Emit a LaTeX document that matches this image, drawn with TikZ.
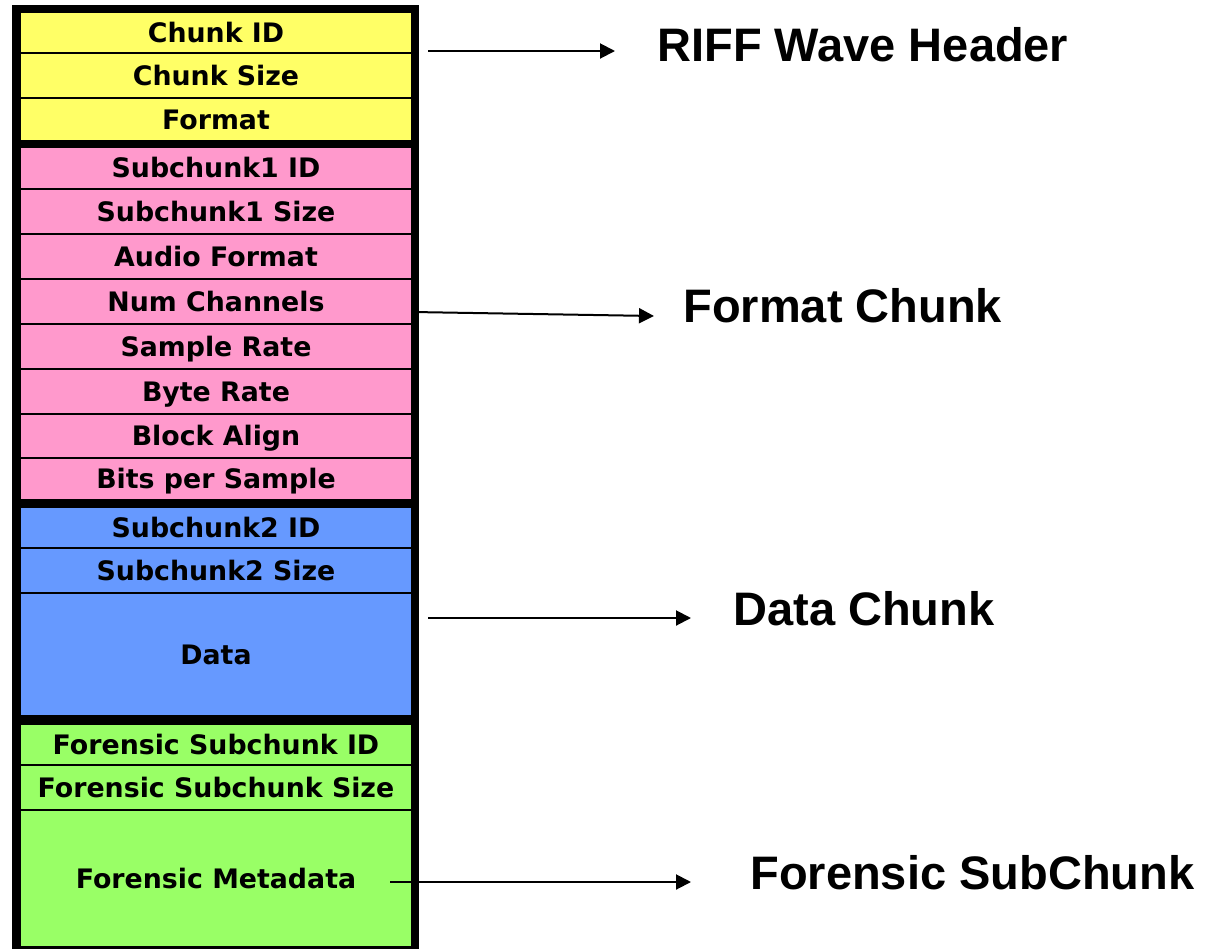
\documentclass[tikz,border=0pt]{standalone}
\usepackage{fontspec}
\setmainfont{DejaVu Sans}
\newfontfamily\labelfont{Liberation Sans}
\usetikzlibrary{arrows.meta,positioning}
\definecolor{riffyellow}{RGB}{255,255,102}
\definecolor{fmtpink}{RGB}{255,153,204}
\definecolor{datablue}{RGB}{102,153,255}
\definecolor{forgreen}{RGB}{153,255,102}
\tikzset{
  field/.style={draw=black, line width=0.75pt, inner sep=0pt, minimum width=196pt,
    text height=9.8pt, text depth=0pt, font=\fontsize{13.4}{16}\selectfont\bfseries},
  chunklabel/.style={anchor=base west, inner sep=0pt,
    font=\labelfont\fontsize{23.5}{27}\selectfont\bfseries},
  pointer/.style={line width=1pt, -{Triangle[length=7.5pt,width=7.5pt]}}
}

\begin{document}
\begin{tikzpicture}[x=0.5pt, y=-0.5pt]
\useasboundingbox (0,0) rectangle (1212,949);
% outer frame (the black bands between the chunks show through)
\fill[black] (12,5) rectangle (419,949);

% RIFF header
\node[field, fill=riffyellow, minimum height=20.5pt] (cid) at (216,32.5) {Chunk ID};
\node[field, fill=riffyellow, minimum height=22.5pt] (csize) at (216,75.5) {Chunk Size};
\node[field, fill=riffyellow, minimum height=21.5pt] (cfmt) at (216,119.5) {Format};

% format chunk
\node[field, fill=fmtpink, minimum height=21pt] (s1id) at (216,168) {Subchunk1 ID};
\node[field, fill=fmtpink, minimum height=22.5pt] (s1size) at (216,211.5) {Subchunk1 Size};
\node[field, fill=fmtpink, minimum height=22.5pt] (afmt) at (216,256.5) {Audio Format};
\node[field, fill=fmtpink, minimum height=22.5pt] (nch) at (216,301.5) {Num Channels};
\node[field, fill=fmtpink, minimum height=22.5pt] (srate) at (216,346.5) {Sample Rate};
\node[field, fill=fmtpink, minimum height=22.5pt] (brate) at (216,391.5) {Byte Rate};
\node[field, fill=fmtpink, minimum height=22pt] (balign) at (216,436) {Block Align};
\node[field, fill=fmtpink, minimum height=21pt] (bps) at (216,479) {Bits per Sample};

% data chunk
\node[field, fill=datablue, minimum height=20.5pt] (s2id) at (216,527.5) {Subchunk2 ID};
\node[field, fill=datablue, minimum height=22.5pt] (s2size) at (216,570.5) {Subchunk2 Size};
\node[field, fill=datablue, minimum height=61.5pt] (data) at (216,654.5) {Data};

% forensic subchunk
\node[field, fill=forgreen, minimum height=20.5pt] (fid) at (216,744.5) {Forensic Subchunk ID};
\node[field, fill=forgreen, minimum height=22.5pt] (fsize) at (216,787.5) {Forensic Subchunk Size};
\node[field, fill=forgreen, minimum height=68.5pt] (fmeta) at (216,878.5) {Forensic Metadata};

% labels on the right
\node[chunklabel] (riff) at (657,61) {RIFF Wave Header};
\node[chunklabel] (fmtchunk) at (683,322) {Format Chunk};
\node[chunklabel] (datachunk) at (733,625) {Data Chunk};
\node[chunklabel] (forchunk) at (750,889) {Forensic SubChunk};

% arrows
\coordinate (riffin) at (428,51);
\coordinate (riffout) at (615,51);
\coordinate (fmtin) at (413,312);
\coordinate (fmtout) at (654,316);
\coordinate (datain) at (428,618);
\coordinate (dataout) at (691,618);
\coordinate (forin) at (390,882);
\coordinate (forout) at (691,882);
\draw[pointer] (riffin) -- (riffout);
\draw[pointer] (fmtin) -- (fmtout);
\draw[pointer] (datain) -- (dataout);
\draw[pointer] (forin) -- (forout);
\end{tikzpicture}
\end{document}
